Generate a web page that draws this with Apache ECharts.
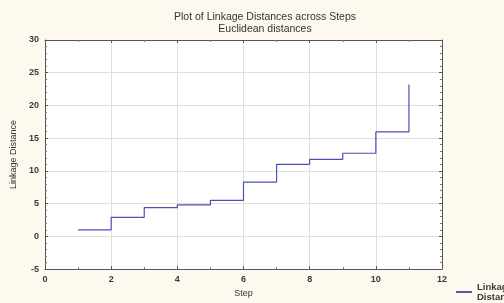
<!DOCTYPE html>
<html>
<head>
<meta charset="utf-8">
<script src="https://cdn.jsdelivr.net/npm/echarts@6/dist/echarts.min.js"></script>
<style>
  html, body { margin: 0; padding: 0; background: #fdf9ee; }
  #chart { width: 504px; height: 303px; }
</style>
</head>
<body>
<div id="chart"></div>
<script>
const steps = [1, 2, 3, 4, 5, 6, 7, 8, 9, 10, 11];
const linkageDistance = [1.0, 2.9, 4.4, 4.8, 5.5, 8.3, 11.0, 11.75, 12.7, 15.95, 23.2];
const seriesName = 'Linkage\nDistance';

const chart = echarts.init(document.getElementById('chart'));
const fontFamily = 'Liberation Sans, Arial, sans-serif';
const textColor = '#333';
const gridColor = '#dedede';

const axisLine = { show: true, onZero: false, lineStyle: { color: '#555', width: 1 } };
const axisTick = { show: true, inside: true, length: 3, lineStyle: { color: '#555' } };
const labelStyle = { fontFamily, fontSize: 9, fontWeight: 'bold', color: '#3a3a3a', margin: 6 };

const option = {
  backgroundColor: '#fdf9ee',
  animation: false,
  title: {
    text: 'Plot of Linkage Distances across Steps\nEuclidean distances',
    left: 260,
    textAlign: 'center',
    top: 6,
    textStyle: { fontFamily, fontSize: 10.5, fontWeight: 'normal', color: textColor, lineHeight: 12 }
  },
  legend: {
    left: 451,
    top: 277,
    icon: 'path://M0,0 L1,0 L1,0.12 L0,0.12 Z',
    itemWidth: 16,
    itemHeight: 2,
    itemGap: 4,
    textStyle: { fontFamily, fontSize: 9.5, fontWeight: 'bold', color: '#3a3a3a', lineHeight: 10 },
    data: [seriesName]
  },
  grid: { left: 45, right: 62, top: 40, bottom: 27, backgroundColor: '#fff', show: true, borderWidth: 0 },
  xAxis: [{
    type: 'value',
    min: 0, max: 12, interval: 2,
    name: 'Step',
    nameLocation: 'middle',
    nameGap: 18,
    nameTextStyle: { fontFamily, fontSize: 9, color: textColor },
    axisLabel: labelStyle,
    splitLine: { show: true, lineStyle: { color: gridColor } },
    minorTick: { show: true, splitNumber: 2, length: 2, lineStyle: { color: '#777' } },
    axisLine, axisTick
  }, {
    type: 'value', position: 'top',
    min: 0, max: 12, interval: 2,
    axisLabel: { show: false },
    splitLine: { show: false },
    minorTick: { show: true, splitNumber: 2, length: 2, lineStyle: { color: '#777' } },
    axisLine, axisTick
  }],
  yAxis: [{
    type: 'value',
    min: -5, max: 30, interval: 5,
    name: 'Linkage Distance',
    nameLocation: 'middle',
    nameGap: 21,
    nameTextStyle: { fontFamily, fontSize: 9, color: textColor },
    axisLabel: labelStyle,
    splitLine: { show: true, lineStyle: { color: gridColor } },
    minorTick: { show: true, splitNumber: 5, length: 2, lineStyle: { color: '#777' } },
    axisLine, axisTick
  }, {
    type: 'value', position: 'right',
    min: -5, max: 30, interval: 5,
    axisLabel: { show: false },
    splitLine: { show: false },
    minorTick: { show: true, splitNumber: 5, length: 2, lineStyle: { color: '#777' } },
    axisLine, axisTick
  }],
  series: [{
    name: seriesName,
    type: 'line',
    step: 'end',
    showSymbol: false,
    itemStyle: { color: '#4b50b5' },
    lineStyle: { color: '#4b50b5', width: 1.2 },
    data: steps.map((s, i) => [s, linkageDistance[i]])
  }]
};

chart.setOption(option);
</script>
</body>
</html>
